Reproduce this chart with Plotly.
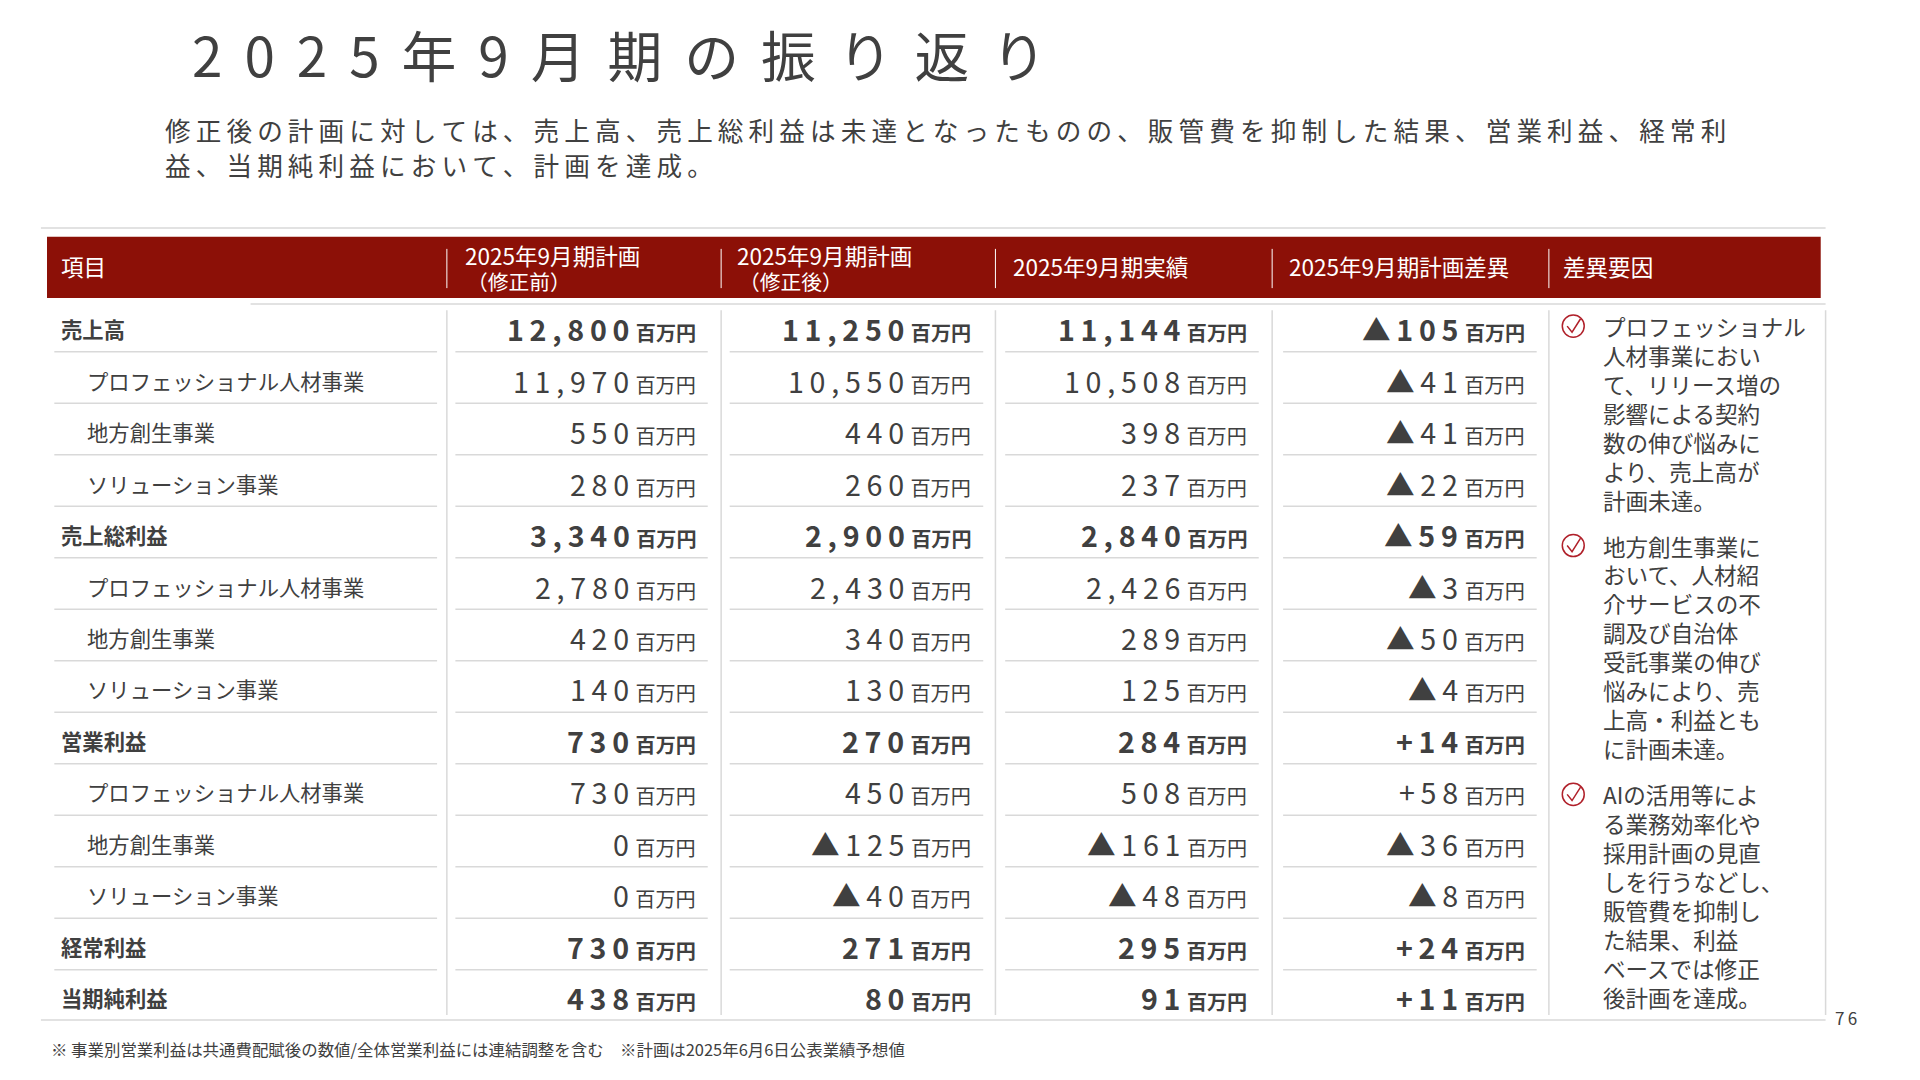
import plotly.graph_objects as go

# slide data
items = ["売上高", "プロフェッショナル人材事業", "地方創生事業", "ソリューション事業",
         "売上総利益", "プロフェッショナル人材事業", "地方創生事業", "ソリューション事業",
         "営業利益", "プロフェッショナル人材事業", "地方創生事業", "ソリューション事業",
         "経常利益", "当期純利益"]
bold_rows = [0, 4, 8, 12, 13]
plan_before = ["12,800", "11,970", "550", "280", "3,340", "2,780", "420", "140",
               "730", "730", "0", "0", "730", "438"]
plan_after = ["11,250", "10,550", "440", "260", "2,900", "2,430", "340", "130",
              "270", "450", "▲125", "▲40", "271", "80"]
actual = ["11,144", "10,508", "398", "237", "2,840", "2,426", "289", "125",
          "284", "508", "▲161", "▲48", "295", "91"]
diff = ["▲105", "▲41", "▲41", "▲22", "▲59", "▲3", "▲50", "▲4",
        "+14", "+58", "▲36", "▲8", "+24", "+11"]
reasons = [
    ["プロフェッショナル", "人材事業におい", "て、リリース増の", "影響による契約",
     "数の伸び悩みに", "より、売上高が", "計画未達。"],
    ["地方創生事業に", "おいて、人材紹", "介サービスの不", "調及び自治体",
     "受託事業の伸び", "悩みにより、売", "上高・利益とも", "に計画未達。"],
    ["AIの活用等によ", "る業務効率化や", "採用計画の見直", "しを行うなどし、",
     "販管費を抑制し", "た結果、利益", "ベースでは修正", "後計画を達成。"],
]
reason_start = [268, 447, 650]

XR = [6, 1581]            # layout units (reference pixels)
YR = [889.5, 8.5]
S = 1920 / (XR[1] - XR[0])  # px per unit for fonts
FONT = "Noto Sans CJK JP"
TXT = "#404040"
RED = "#8c1007"
GRID = "#d9d9d9"

def sp(s, n=1):
    return ("\u2009" * n).join(s)

fig = go.Figure()
shapes, ann = [], []

def text(x, y, s, size, color=TXT, anchor="left", bold=False):
    ann.append(dict(x=x, y=y, text=f"<b>{s}</b>" if bold else s, showarrow=False,
                    xanchor=anchor, yanchor="middle",
                    font=dict(family=FONT, size=size * S, color=color)))

def line(x0, y0, x1, y1, color=GRID, w=1.5):
    shapes.append(dict(type="line", x0=x0, y0=y0, x1=x1, y1=y1,
                       line=dict(color=color, width=w)))

# title and lead
text(155, 45, sp("2025年9月期の振り返り", 2), 45)
text(133, 108, sp("修正後の計画に対しては、売上高、売上総利益は未達となったものの、販管費を抑制した結果、営業利益、経常利"), 21)
text(133, 136, sp("益、当期純利益において、計画を達成。"), 21)

# header
line(33, 188, 1497, 188)
shapes.append(dict(type="rect", x0=38, y0=195, x1=1493, y1=245, fillcolor=RED, line_width=0))
line(205, 250, 1497, 250)
cols = [366, 591, 816, 1043, 1270]
for c in cols:
    line(c, 205, c, 237, "white", 1)
text(48, 219, "項目", 18.5, "white")
text(379, 210, "2025年9月期計画", 18.5, "white")
text(381, 231, "（修正前）", 17, "white")
text(602, 210, "2025年9月期計画", 18.5, "white")
text(604, 231, "（修正後）", 17, "white")
text(829, 219, "2025年9月期実績", 18.5, "white")
text(1055, 219, "2025年9月期計画差異", 18.5, "white")
text(1280, 219, "差異要因", 18.5, "white")

# body
for c in cols + [1497]:
    line(c, 255, c, 830)
line(33, 834, 1497, 834)
spans = [(44, 358), (373, 580), (598, 806), (824, 1032), (1052, 1260)]
row_y = [270 + 42 * i for i in range(len(items))]
for i, y in enumerate(row_y):
    b = i in bold_rows
    if b:
        text(48, y, items[i], 17.5, bold=True)
    else:
        text(69, y, items[i], 17.5)
    for (x0, x1), series in zip(spans[1:], [plan_before, plan_after, actual, diff]):
        v = sp(series[i])
        num = f"<b>{v}</b>" if b else v
        unit = "<b>百万円</b>" if b else "百万円"
        ann.append(dict(x=x1 - 8, y=y, showarrow=False, xanchor="right", yanchor="middle",
                        text=f"{num} <span style='font-size:{16.5 * S:.1f}px'>{unit}</span>",
                        font=dict(family=FONT, size=23.5 * S, color=TXT)))
    if i < len(items) - 1:
        for x0, x1 in spans:
            line(x0, y + 19, x1, y + 19)

# reasons
for lines, y0 in zip(reasons, reason_start):
    shapes.append(dict(type="circle", x0=1281, y0=y0 - 9, x1=1299, y1=y0 + 9,
                       line=dict(color="#b0202a", width=1.5)))
    shapes.append(dict(type="path", path=f"M 1285 {y0} L 1289 {y0 + 5} L 1296 {y0 - 6}",
                       line=dict(color="#b0202a", width=1.5)))
    for k, s in enumerate(lines):
        text(1313, y0 + 23.6 * k, s, 18.5)

text(40, 858, "※ 事業別営業利益は共通費配賦後の数値/全体営業利益には連結調整を含む　※計画は2025年6月6日公表業績予想値", 13.5)
text(1503, 832, sp("76"), 14)

fig.update_layout(
    width=1920, height=1080, margin=dict(l=0, r=0, t=0, b=0),
    plot_bgcolor="white", paper_bgcolor="white",
    xaxis=dict(range=XR, visible=False, fixedrange=True),
    yaxis=dict(range=YR, visible=False, fixedrange=True),
    shapes=shapes, annotations=ann, showlegend=False,
)
fig.write_html("out.html")
